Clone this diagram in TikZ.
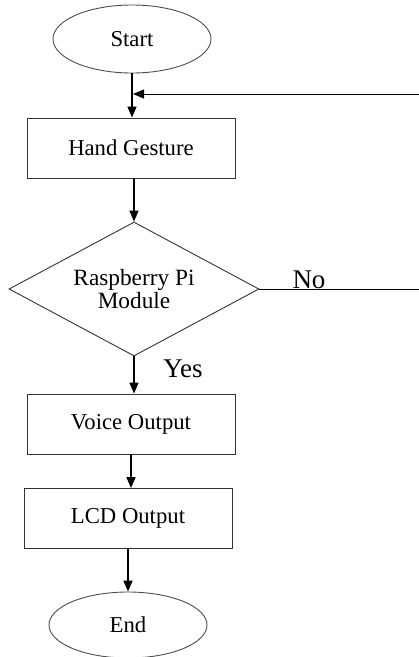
\documentclass[tikz,border=0pt]{standalone}
\usepackage{fontspec}
\setmainfont{Liberation Serif}
\usetikzlibrary{shapes.geometric,arrows.meta}
\begin{document}
\begin{tikzpicture}[x=1pt,y=-1pt,
  box/.style={draw=black!80,line width=0.9pt,minimum width=208pt,minimum height=60pt,inner sep=0pt,font=\fontsize{22.7}{24}\selectfont},
  term/.style={draw=black!70,ellipse,line width=0.9pt,minimum width=158pt,minimum height=68pt,inner sep=0pt,font=\fontsize{22.7}{24}\selectfont},
  decision/.style={draw=black!80,diamond,aspect=1.87,line width=0.9pt,minimum width=250pt,minimum height=134pt,inner sep=0pt,align=center,font=\fontsize{23.3}{19}\selectfont},
  flow/.style={line width=1.6pt,-{Triangle[length=11pt,width=9pt]}},
  thinline/.style={line width=1pt},
  lbl/.style={font=\fontsize{27}{28}\selectfont,inner sep=0pt}]
\useasboundingbox (0,0) rectangle (419,657);
\node[term] (start) at (132,39) {Start};
\node[box] (hand) at (131,148) {Hand Gesture};
\node[decision] (rpi) at (134,289) {Raspberry Pi\\Module};
\node[box] (voice) at (131,424) {Voice Output};
\node[box] (lcd) at (128,518.5) {LCD Output};
\node[term,minimum height=66pt] (end) at (128,625) {End};
\coordinate (join) at (133,94);
\coordinate (far) at (430,289);
\coordinate (fartop) at (430,94);
\draw[flow] (start.south) -- (hand.north -| start.south);
\draw[flow] (hand.south -| rpi.north) -- (rpi.north);
\draw[flow] (rpi.south) -- (voice.north -| rpi.south);
\draw[flow] (voice.south) -- (lcd.north -| voice.south);
\draw[flow] (lcd.south -| end.north) -- (end.north);
\draw[thinline] (rpi.east) -- (far) -- (fartop);
\draw[thinline,-{Triangle[length=11pt,width=9pt]}] (fartop) -- (join);
\node[lbl] (no) at (309,280) {No};
\node[lbl] (yes) at (183,369) {Yes};
\end{tikzpicture}
\end{document}
